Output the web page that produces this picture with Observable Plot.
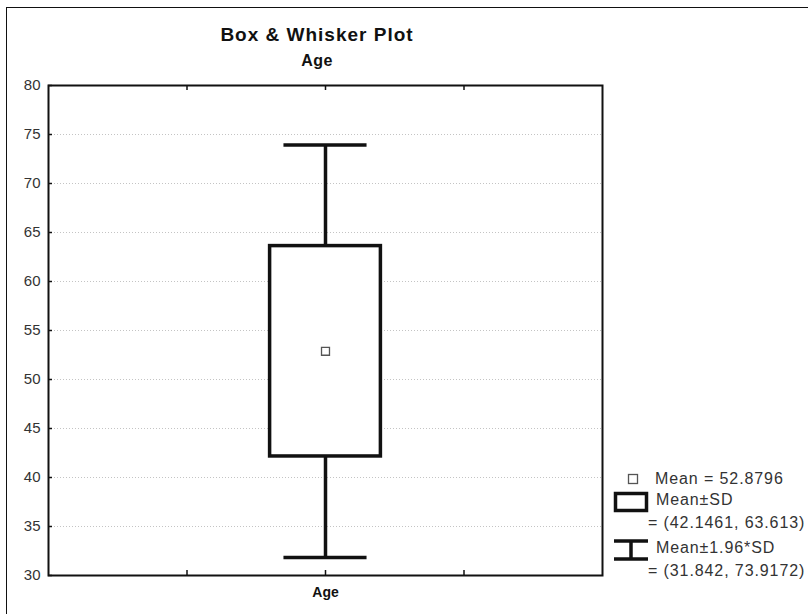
<!DOCTYPE html>
<html>
<head>
<meta charset="utf-8">
<script src="https://cdn.jsdelivr.net/npm/d3@7"></script>
<script src="https://cdn.jsdelivr.net/npm/@observablehq/plot@0.6"></script>
<style>
  html, body { margin: 0; padding: 0; background: #fff; }
  body { width: 808px; height: 614px; position: relative; overflow: hidden; font-family: "Liberation Sans", Arial, sans-serif; }
  #outer { position: absolute; left: 6px; top: 7px; width: 900px; height: 700px; border-top: 1.5px solid #111; border-left: 1.5px solid #111; }
  #chart { position: absolute; left: 0; top: 0; }
  .title { position: absolute; left: 117px; width: 400px; text-align: center; font-weight: bold; color: #111; }
  .leg { position: absolute; font-size: 16px; color: #333; letter-spacing: 0.9px; white-space: nowrap; line-height: 1; }
  .icon { position: absolute; }
</style>
</head>
<body>
<div id="outer"></div>
<div id="chart"></div>
<div class="title" style="top:24px;font-size:19px;letter-spacing:1px;">Box &amp; Whisker Plot</div>
<div class="title" style="top:52px;font-size:16px;letter-spacing:0.5px;">Age</div>
<div id="legend"></div>
<script>
// ---- data ----
const categories = ["Age"];
const means = [52.8796];
const sdLow = [42.1461];
const sdHigh = [63.613];
const ciLow = [31.842];
const ciHigh = [73.9172];
const yTicks = [30, 35, 40, 45, 50, 55, 60, 65, 70, 75, 80];
const xTickPositions = [1, 2, 3];

const rows = categories.map((c, i) => ({
  cat: c, pos: i + 2,
  mean: means[i], lo: sdLow[i], hi: sdHigh[i], wlo: ciLow[i], whi: ciHigh[i]
}));

const W = 808, H = 614, mL = 48, mR = 206, mT = 85, mB = 39;
const pw = W - mL - mR, ph = H - mT - mB;

const chart = Plot.plot({
  width: W, height: H,
  marginLeft: mL, marginRight: mR, marginTop: mT, marginBottom: mB,
  style: { fontFamily: "Liberation Sans, Arial, sans-serif", background: "transparent", overflow: "visible" },
  x: { domain: [0, 4], axis: null, label: null },
  y: { domain: [30, 80], axis: null, label: null },
  marks: [
    Plot.ruleY(yTicks.filter(t => t > 30 && t < 80), { stroke: "#c4c4c4", strokeDasharray: "1,2", strokeWidth: 1 }),
    // inner tick marks
    Plot.ruleY(yTicks, { stroke: "#111", strokeWidth: 1.5, insetRight: pw - 4 }),
    Plot.ruleX(xTickPositions, { stroke: "#111", strokeWidth: 1.5, insetTop: ph - 5 }),
    Plot.ruleX(xTickPositions, { stroke: "#111", strokeWidth: 1.5, insetBottom: ph - 5 }),
    // whiskers
    Plot.ruleX(rows, { x: "pos", y1: "wlo", y2: "lo", stroke: "#111", strokeWidth: 3.5 }),
    Plot.ruleX(rows, { x: "pos", y1: "hi", y2: "whi", stroke: "#111", strokeWidth: 3.5 }),
    Plot.ruleY(rows, { y: "wlo", x1: d => d.pos - 0.3, x2: d => d.pos + 0.3, stroke: "#111", strokeWidth: 3.5 }),
    Plot.ruleY(rows, { y: "whi", x1: d => d.pos - 0.3, x2: d => d.pos + 0.3, stroke: "#111", strokeWidth: 3.5 }),
    // box
    Plot.rect(rows, { x1: d => d.pos - 0.4, x2: d => d.pos + 0.4, y1: "lo", y2: "hi", fill: "white", stroke: "#111", strokeWidth: 3.5 }),
    // mean
    Plot.dot(rows, { x: "pos", y: "mean", symbol: "square", r: 4.5, fill: "white", stroke: "#555", strokeWidth: 1.3 }),
    Plot.frame({ stroke: "#111", strokeWidth: 2 }),
    Plot.axisY(yTicks, { anchor: "left", tickSize: 0, tickPadding: 8, fontSize: 15, fill: "#333", letterSpacing: 1, label: null }),
    Plot.axisX(rows.map(d => d.pos), { anchor: "bottom", tickSize: 0, tickPadding: 12, fontSize: 14, fontWeight: "bold", fill: "#111",
      label: null, tickFormat: p => categories[p - 2] })
  ]
});
document.getElementById("chart").appendChild(chart);

// ---- legend ----
const lg = document.getElementById("legend");
const legTexts = [
  { t: `Mean = ${means[0]}`, x: 655, y: 471 },
  { t: "Mean±SD", x: 656, y: 492 },
  { t: `= (${sdLow[0]}, ${sdHigh[0]})`, x: 648, y: 515 },
  { t: "Mean±1.96*SD", x: 656, y: 540 },
  { t: `= (${ciLow[0]}, ${ciHigh[0]})`, x: 648, y: 563 }
];
legTexts.forEach(d => {
  const el = document.createElement("div");
  el.className = "leg";
  el.style.left = d.x + "px";
  el.style.top = d.y + "px";
  el.textContent = d.t;
  lg.appendChild(el);
});
const icons = [
  { x: 626, y: 472, w: 14, h: 14, svg: '<rect x="2.5" y="2.5" width="9" height="9" fill="white" stroke="#555" stroke-width="1.3"/>' },
  { x: 612, y: 490, w: 38, h: 24, svg: '<rect x="3.5" y="3.5" width="31" height="17" fill="white" stroke="#111" stroke-width="3.5"/>' },
  { x: 612, y: 537, w: 38, h: 26, svg: '<line x1="2" x2="36" y1="4" y2="4" stroke="#111" stroke-width="3.5"/><line x1="2" x2="36" y1="22" y2="22" stroke="#111" stroke-width="3.5"/><line x1="19" x2="19" y1="4" y2="22" stroke="#111" stroke-width="3.5"/>' }
];
icons.forEach(d => {
  const s = document.createElementNS("http://www.w3.org/2000/svg", "svg");
  s.setAttribute("class", "icon");
  s.setAttribute("width", d.w);
  s.setAttribute("height", d.h);
  s.style.left = d.x + "px";
  s.style.top = d.y + "px";
  s.innerHTML = d.svg;
  lg.appendChild(s);
});
</script>
</body>
</html>
